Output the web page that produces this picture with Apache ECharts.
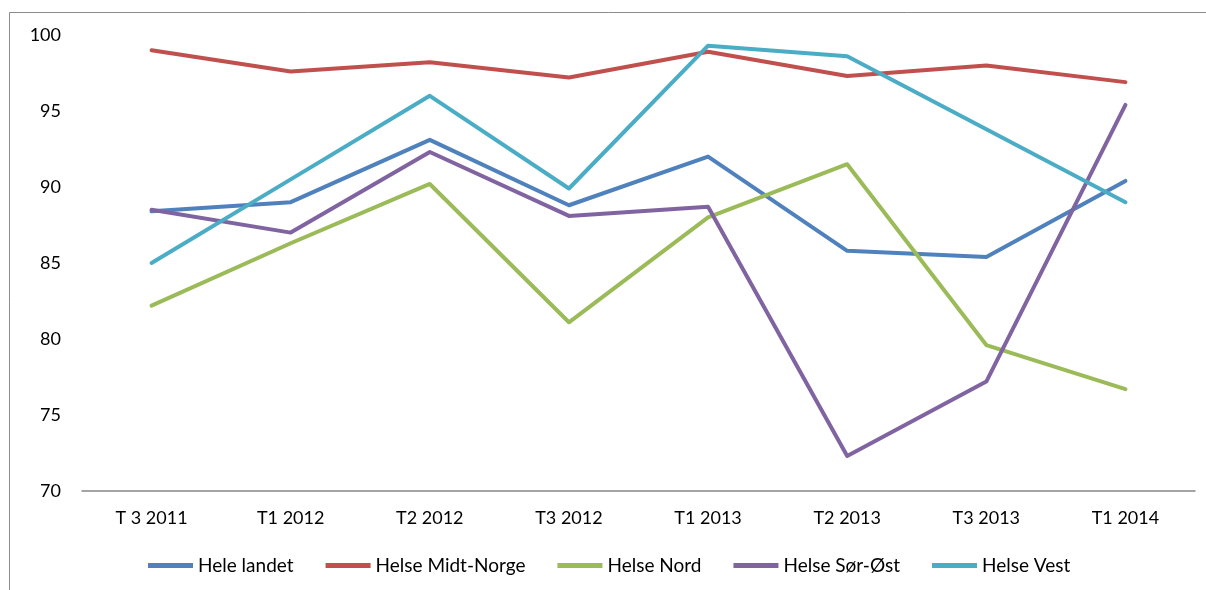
<!DOCTYPE html>
<html><head><meta charset="utf-8">
<script src="https://cdn.jsdelivr.net/npm/echarts@6/dist/echarts.min.js"></script>
<style>html,body{margin:0;padding:0;background:#fff}#c{width:1206px;height:590px}</style>
</head><body><div id="c"></div>
<script>
const categories = ['T 3 2011','T1 2012','T2 2012','T3 2012','T1 2013','T2 2013','T3 2013','T1 2014'];
const heleLandet = [88.4, 89.0, 93.1, 88.8, 92.0, 85.8, 85.4, 90.4];
const midtNorge  = [99.0, 97.6, 98.2, 97.2, 98.9, 97.3, 98.0, 96.9];
const nord       = [82.2, 86.3, 90.2, 81.1, 88.0, 91.5, 79.6, 76.7];
const sorOst     = [88.5, 87.0, 92.3, 88.1, 88.7, 72.3, 77.2, 95.4];
const vest       = [85.0, 90.5, 96.0, 89.9, 99.3, 98.6, 93.8, 89.0];
const seriesNames = ['Hele landet','Helse Midt-Norge','Helse Nord','Helse Sør-Øst','Helse Vest'];
const colors = ['#4F81BD','#C0504D','#9BBB59','#8064A2','#4BACC6'];
const dataSets = [heleLandet, midtNorge, nord, sorOst, vest];

const font = 'Lato, "Open Sans", sans-serif';
const chart = echarts.init(document.getElementById('c'));
chart.setOption({
  animation: false,
  color: colors,
  graphic: [{type:'rect', shape:{x:9.5,y:12.5,width:1400,height:800}, style:{fill:'none',stroke:'#8c8c8c',lineWidth:1}, silent:true, z:-1}],
  grid: {left: 82, right: 11, top: 35, bottom: 99, containLabel: false},
  legend: {
    data: seriesNames, left: 148, top: 556, padding: 0, icon: 'rect', itemWidth: 45, itemHeight: 5, itemGap: 32,
    textStyle: {fontFamily: font, fontSize: 19, color: '#000'}
  },
  xAxis: {
    type: 'category', data: categories, boundaryGap: true,
    axisLine: {lineStyle: {color: '#868686', width: 1.5}},
    axisTick: {show: false},
    axisLabel: {fontFamily: font, fontSize: 18, color: '#000', margin: 18}
  },
  yAxis: {
    type: 'value', min: 70, max: 100, interval: 5,
    axisLine: {show: false}, axisTick: {show: false}, splitLine: {show: false},
    axisLabel: {fontFamily: font, fontSize: 18, color: '#000', margin: 21}
  },
  series: dataSets.map((d, i) => ({
    name: seriesNames[i], type: 'line', data: d, showSymbol: false, symbol: 'none',
    lineStyle: {width: 4, color: colors[i], cap: 'round', join: 'round'},
    itemStyle: {color: colors[i]}
  }))
});
</script></body></html>
